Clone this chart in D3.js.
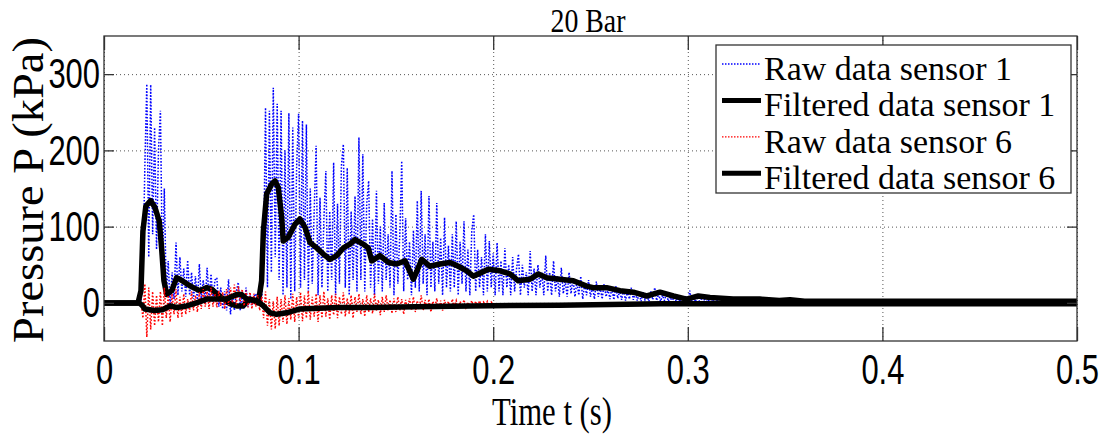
<!DOCTYPE html>
<html>
<head>
<meta charset="utf-8">
<script src="https://cdn.jsdelivr.net/npm/d3@7"></script>
<style>
  body { margin: 0; background: #fff; }
  svg { display: block; }
</style>
</head>
<body>
<script>
var width = 1106,
    height = 439;

// raw samples, 1 ms apart, starting at t = 0.018 s
var rawStart = 0.018,
    rawStep = 0.001;

var raw1 = [
  0, 2, 40, 180, 287, 60, 286, 90, 230, 70,
  200, 252, 40, 150, 10, 55, -5, 40, 5, 79,
  10, 60, 15, 45, 8, 56, 10, 40, 5, 35,
  0, 51, 5, 30, 0, 46, 5, 38, 2, 30,
  33, -5, 20, -8, 15, -10, 31, -15, 10, -10,
  15, 27, -10, 12, -8, 20, -5, 10, -3, 8,
  12, 0, 5, 2, 60, 256, 20, 252, 40, 282,
  60, 261, 30, 252, 10, 200, 20, 249, 5, 230,
  15, 180, 248, 20, 239, 30, 234, 15, 150, 25,
  120, 206, 10, 138, 20, 110, 173, 15, 120, 30,
  184, 10, 130, 25, 180, 208, 20, 177, 10, 120,
  30, 140, 15, 217, 30, 195, 15, 130, 160, 20,
  110, 10, 147, 25, 100, 15, 131, 30, 90, 20,
  173, 10, 116, 25, 90, 186, 15, 111, 30, 80,
  10, 95, 20, 134, 15, 147, 25, 90, 10, 140,
  20, 80, 15, 131, 25, 85, 10, 112, 20, 75,
  15, 90, 20, 107, 10, 80, 25, 107, 15, 70,
  10, 95, 116, 15, 70, 20, 60, 10, 90, 15,
  81, 20, 65, 10, 79, 15, 55, 10, 72, 20,
  50, 10, 60, 15, 45, 64, 10, 50, 20, 40,
  10, 68, 15, 45, 10, 50, 20, 40, 10, 62,
  15, 40, 10, 55, 15, 35, 8, 46, 12, 30,
  8, 40, 12, 33, 8, 28, 10, 35, 5, 25,
  10, 30, 8, 22, 5, 28, 8, 20, 5, 25,
  8, 18, 5, 20, 4, 22, 6, 16, 4, 18,
  3, 15, 5, 20, 4, 14, 3, 12, 2, 14,
  4, 10, 2, 15, 4, 20, 3, 12, 2, 10,
  3, 12, 2, 8, 1, 10, 2, 8, 1, 7,
  2, 9, 1, 16, 2, 8, 1, 6, 2, 5,
  1, 7, 1, 4, 0, 5, 0, 3, 0, 2,
  0, 1, 0
];

var raw6 = [
  0, 2, -20, 25, -45, 20, -35, 15, -30, 10,
  -25, 15, -30, 20, -20, 10, -25, 12, -15, 18,
  -20, 8, -18, 12, -15, 5, -12, 15, -10, 10,
  -12, 14, -8, 18, -5, 15, -8, 20, -5, 12,
  -6, 16, -4, 14, -8, 18, -3, 20, 0, 24,
  -2, 22, 2, 18, -4, 16, -6, 14, -8, 12,
  -5, 10, -10, 8, -20, 15, -30, 5, -35, 2,
  -34, 8, -30, 5, -25, 10, -28, 6, -22, 12,
  -25, 8, -20, 14, -24, 10, -20, 16, -22, 8,
  -18, 12, -25, 10, -20, 15, -18, 6, -22, 10,
  -16, 12, -20, 8, -15, 14, -18, 6, -14, 10,
  -20, 8, -12, 12, -15, 5, -18, 10, -12, 6,
  -14, 12, -10, 4, -16, 8, -12, 10, -10, 4,
  -14, 6, -12, 8, -10, 5, -15, 4, -8, 6,
  -10, 8, -12, 3, -8, 10, -10, 4, -8, 5,
  -12, 2, -6, 6, -8, 3, -10, 4, -6, 2,
  -8, 5, -5, 3, -8, 2, -5, 4, -6, 1,
  -4, 3, -6, 2, -4, 3, -5, 1, -3, 2,
  -4, 1, -2
];

// filtered signals as [t, P]
var filt1 = [
  [0, 0], [0.0175, 0], [0.019, 16], [0.020, 94], [0.0215, 127], [0.024, 134],
  [0.0262, 125], [0.0284, 107], [0.0296, 72], [0.0308, 29], [0.0322, 11],
  [0.0348, 16], [0.0373, 33], [0.039, 31], [0.0425, 25], [0.0459, 20],
  [0.0493, 16], [0.0528, 20], [0.0553, 18], [0.0579, 12], [0.0613, 5],
  [0.0647, -1], [0.0682, -4], [0.0715, -4], [0.075, 5], [0.0793, 0],
  [0.081, 29], [0.0819, 94], [0.0836, 143], [0.0862, 156], [0.0879, 160],
  [0.0896, 151], [0.0913, 112], [0.0921, 81], [0.0947, 86], [0.0981, 103],
  [0.1007, 110], [0.1033, 99], [0.1059, 79], [0.1093, 72], [0.1127, 64],
  [0.1161, 57], [0.1196, 62], [0.123, 72], [0.1264, 77], [0.129, 83],
  [0.1332, 77], [0.1358, 72], [0.1376, 55], [0.1418, 62], [0.1461, 53],
  [0.1504, 51], [0.1547, 55], [0.159, 31], [0.1633, 57], [0.1675, 48],
  [0.1727, 51], [0.1778, 53], [0.1821, 48], [0.1864, 42], [0.1898, 35],
  [0.1941, 40], [0.1975, 44], [0.2035, 42], [0.2086, 38], [0.2129, 29],
  [0.2189, 31], [0.2232, 38], [0.2275, 33], [0.2343, 31], [0.2412, 29],
  [0.248, 22], [0.2514, 20], [0.2583, 20], [0.2652, 16], [0.272, 14],
  [0.2789, 9], [0.2857, 14], [0.2926, 9], [0.2994, 5], [0.3054, 9],
  [0.3114, 7], [0.3233, 5], [0.337, 5], [0.347, 3], [0.3525, 4],
  [0.36, 2], [0.5, 2]
];

var filt6 = [
  [0, 0], [0.018, 0], [0.0195, -3], [0.021, -8], [0.026, -10], [0.030, -9],
  [0.034, -4], [0.0373, -6], [0.0425, -4], [0.0476, 0], [0.0528, 5],
  [0.058, 5], [0.063, 5], [0.0682, 11], [0.0707, 11], [0.0733, 5],
  [0.0785, 3], [0.0819, -4], [0.0853, -13], [0.0887, -15], [0.0939, -13],
  [0.1007, -8], [0.12, -6], [0.137, -6], [0.16, -5], [0.188, -4],
  [0.234, -3], [0.2857, -1], [0.311, -1], [0.5, -1]
];

var xTicks = [0, 0.1, 0.2, 0.3, 0.4, 0.5];
var yTicks = [0, 100, 200, 300];
var legendLabels = ["Raw data sensor 1", "Filtered data sensor 1", "Raw data sensor 6", "Filtered data sensor 6"];

var x = d3.scaleLinear().domain([0, 0.5]).range([104, 1077]);
var y = d3.scaleLinear().domain([-50, 350]).range([341, 36]);

var svg = d3.select("body").append("svg")
    .attr("width", width)
    .attr("height", height);

var sans = "'Liberation Sans', Arial, sans-serif",
    serif = "'Liberation Serif', 'Times New Roman', serif",
    axisColor = "#333",
    squash = 0.72;

svg.append("clipPath").attr("id", "plot")
  .append("rect")
    .attr("x", 104).attr("y", 36)
    .attr("width", 973).attr("height", 305);

// grid
svg.append("g")
    .attr("transform", "translate(0,341)")
    .call(d3.axisBottom(x).tickValues(xTicks).tickSize(-305).tickFormat(""))
    .call(g => g.select(".domain").remove())
    .selectAll("line")
    .attr("stroke", "#555")
    .attr("stroke-dasharray", "1,3");

svg.append("g")
    .attr("transform", "translate(104,0)")
    .call(d3.axisLeft(y).tickValues(yTicks).tickSize(-973).tickFormat(""))
    .call(g => g.select(".domain").remove())
    .selectAll("line")
    .attr("stroke", "#555")
    .attr("stroke-dasharray", "1,3");

var line = d3.line()
    .x(d => x(d[0]))
    .y(d => y(d[1]));

function rawPoints(vals) {
  return vals.map((v, i) => [rawStart + i * rawStep, v]);
}

var plot = svg.append("g").attr("clip-path", "url(#plot)");

plot.append("path")
    .datum(rawPoints(raw1))
    .attr("d", line)
    .attr("fill", "none")
    .attr("stroke", "#0000ff")
    .attr("stroke-width", 1.5)
    .attr("stroke-dasharray", "1.6,1.6");

plot.append("path")
    .datum(filt1)
    .attr("d", line)
    .attr("fill", "none")
    .attr("stroke", "#000")
    .attr("stroke-width", 5.5)
    .attr("stroke-linejoin", "round");

plot.append("path")
    .datum(rawPoints(raw6))
    .attr("d", line)
    .attr("fill", "none")
    .attr("stroke", "#ff0000")
    .attr("stroke-width", 1.5)
    .attr("stroke-dasharray", "1.6,1.8");

plot.append("path")
    .datum(filt6)
    .attr("d", line)
    .attr("fill", "none")
    .attr("stroke", "#000")
    .attr("stroke-width", 5.5)
    .attr("stroke-linejoin", "round");

// axes with inward ticks
var xAxis = svg.append("g")
    .attr("transform", "translate(0,341)")
    .call(d3.axisBottom(x).tickValues(xTicks).tickSize(-14).tickPadding(12)
      .tickFormat(d => d === 0 ? "0" : d3.format(".1f")(d)));

var yAxis = svg.append("g")
    .attr("transform", "translate(104,0)")
    .call(d3.axisLeft(y).tickValues(yTicks).tickSize(-10).tickPadding(5.5));

svg.append("g")
    .attr("transform", "translate(0,36)")
    .call(d3.axisTop(x).tickValues(xTicks).tickSize(-14).tickFormat(""));

svg.append("g")
    .attr("transform", "translate(1077,0)")
    .call(d3.axisRight(y).tickValues(yTicks).tickSize(-10).tickFormat(""));

svg.selectAll(".domain").remove();
svg.selectAll(".tick line").filter(function() { return this.getAttribute("stroke-dasharray") === null; })
    .attr("stroke", axisColor).attr("stroke-width", 1.3);

[xAxis, yAxis].forEach(function(a) {
  a.selectAll("text")
    .attr("font-family", sans)
    .attr("font-size", 43)
    .attr("fill", "#000")
    .attr("transform", "scale(" + squash + ",1)");
});

svg.append("rect")
    .attr("x", 104).attr("y", 36)
    .attr("width", 973).attr("height", 305)
    .attr("fill", "none")
    .attr("stroke", axisColor)
    .attr("stroke-width", 1.3);

// texts squeezed to the measured widths
function placeText(px, py, rot, str, size, target) {
  var g = svg.append("g")
      .attr("transform", "translate(" + px + "," + py + ")" + (rot ? " rotate(" + rot + ")" : ""));
  var t = g.append("text")
      .attr("text-anchor", "middle")
      .attr("font-family", serif)
      .attr("font-size", size)
      .attr("fill", "#000")
      .text(str);
  var w = t.node().getComputedTextLength();
  t.attr("transform", "scale(" + (target / w) + ",1)");
}

placeText(588, 32, 0, "20 Bar", 33, 75);
placeText(552, 425, 0, "Time t (s)", 40, 120);
placeText(43, 190, -90, "Pressure P (kPa)", 44, 306);

// legend
var legend = svg.append("g");

legend.append("rect")
    .attr("x", 716).attr("y", 45)
    .attr("width", 355).attr("height", 148)
    .attr("fill", "#fff")
    .attr("stroke", axisColor)
    .attr("stroke-width", 1.3);

var legendStyles = [
  {stroke: "#0000ff", w: 1.3, dash: "1.5,1.5"},
  {stroke: "#000", w: 5, dash: null},
  {stroke: "#ff0000", w: 1.3, dash: "1.5,1.5"},
  {stroke: "#000", w: 5, dash: null}
];

var legendK = null;
legendLabels.forEach(function(label, i) {
  var cy = 64 + i * 36.4;
  var s = legendStyles[i];
  legend.append("line")
      .attr("x1", 722).attr("x2", 761)
      .attr("y1", cy).attr("y2", cy)
      .attr("stroke", s.stroke)
      .attr("stroke-width", s.w)
      .attr("stroke-dasharray", s.dash);
  var g = legend.append("g").attr("transform", "translate(764," + (cy + 16) + ")");
  var t = g.append("text")
      .attr("font-family", serif)
      .attr("font-size", 34)
      .attr("fill", "#000")
      .text(label);
  if (legendK === null) legendK = 248 / t.node().getComputedTextLength();
  t.attr("transform", "scale(" + legendK + ",1)");
});
</script>
</body>
</html>
